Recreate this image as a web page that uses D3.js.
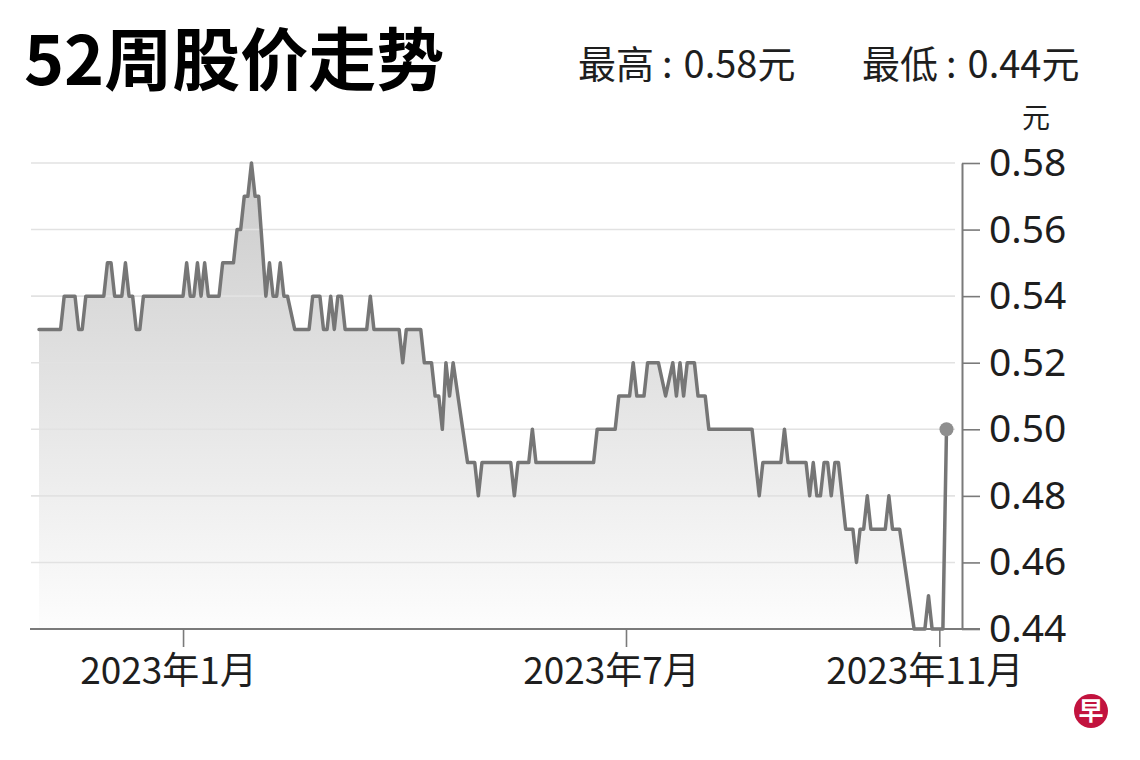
<!DOCTYPE html>
<html>
<head>
<meta charset="utf-8">
<script src="https://cdn.jsdelivr.net/npm/d3@7"></script>
<style>
  html, body { margin: 0; padding: 0; background: #ffffff; }
  svg { display: block; }
</style>
</head>
<body>
<svg id="chart" width="1140" height="760"></svg>
<script>
// ---------------- DATA ----------------
const titleText = "52周股价走势";
const statLabels = ["最高", "最低"];
const statValues = [0.58, 0.44];
const unitLabel = "元";

// trading-day index (0 = first day of the 52-week window) and closing price at each turning point
const dayIndex = [
  0, 6, 7, 10, 11, 12, 13, 18, 19, 20, 21, 23, 24, 25, 26, 27, 28, 29,
  40, 41, 42, 43, 44, 45, 46, 47, 50, 51, 54, 55, 56, 57, 58, 59, 60, 61,
  63, 64, 65, 66, 67, 68, 69, 71, 75, 76, 78, 79, 80, 81, 82, 83, 84, 85,
  91, 92, 93, 100, 101, 102, 106, 107, 109, 110, 111, 112, 113, 114, 115,
  119, 121, 122, 123, 131, 132, 133, 136, 137, 138, 154, 155, 160, 161, 164,
  165, 166, 168, 169, 172, 174, 176, 177, 178, 179, 180, 182, 183, 185, 186,
  198, 200, 201, 206, 207, 208, 213, 214, 215, 216, 217, 218, 219, 220, 221,
  222, 224, 226, 227, 228, 229, 230, 231, 235, 236, 237, 239, 243, 246, 247,
  248, 251, 252
];
const closePrice = [
  0.53, 0.53, 0.54, 0.54, 0.53, 0.53, 0.54, 0.54, 0.55, 0.55, 0.54, 0.54, 0.55, 0.54, 0.54, 0.53, 0.53, 0.54,
  0.54, 0.55, 0.54, 0.54, 0.55, 0.54, 0.55, 0.54, 0.54, 0.55, 0.55, 0.56, 0.56, 0.57, 0.57, 0.58, 0.57, 0.57,
  0.54, 0.55, 0.54, 0.54, 0.55, 0.54, 0.54, 0.53, 0.53, 0.54, 0.54, 0.53, 0.53, 0.54, 0.53, 0.54, 0.54, 0.53,
  0.53, 0.54, 0.53, 0.53, 0.52, 0.53, 0.53, 0.52, 0.52, 0.51, 0.51, 0.50, 0.52, 0.51, 0.52,
  0.49, 0.49, 0.48, 0.49, 0.49, 0.48, 0.49, 0.49, 0.50, 0.49, 0.49, 0.50, 0.50, 0.51, 0.51,
  0.52, 0.51, 0.51, 0.52, 0.52, 0.51, 0.52, 0.51, 0.52, 0.51, 0.52, 0.52, 0.51, 0.51, 0.50,
  0.50, 0.48, 0.49, 0.49, 0.50, 0.49, 0.49, 0.48, 0.49, 0.48, 0.48, 0.49, 0.49, 0.48, 0.49,
  0.49, 0.47, 0.47, 0.46, 0.47, 0.47, 0.48, 0.47, 0.47, 0.48, 0.47, 0.47, 0.44, 0.44, 0.45,
  0.44, 0.44, 0.50
];

const yTicks = [0.44, 0.46, 0.48, 0.50, 0.52, 0.54, 0.56, 0.58];
const xTickDays = [40, 163, 250];
const xTickLabels = ["2023年1月", "2023年7月", "2023年11月"];

// ---------------- LAYOUT ----------------
const svg = d3.select("#chart");
const plotLeft = 39, plotRight = 946.5, plotTop = 163, plotBottom = 629;
const gridLeft = 31, gridRight = 955, axisX = 962, baseRight = 980;
const cjk = "'Noto Sans CJK SC', 'Noto Sans', sans-serif";

const x = d3.scaleLinear().domain([d3.min(dayIndex), d3.max(dayIndex)]).range([plotLeft, plotRight]);
const y = d3.scaleLinear().domain([d3.min(yTicks), d3.max(yTicks)]).range([plotBottom, plotTop]);

const series = dayIndex.map((d, i) => ({ d, v: closePrice[i] }));

// gradient for area
const defs = svg.append("defs");
const grad = defs.append("linearGradient")
  .attr("id", "areaGrad")
  .attr("gradientUnits", "userSpaceOnUse")
  .attr("x1", 0).attr("x2", 0)
  .attr("y1", y(d3.max(yTicks))).attr("y2", y(d3.min(yTicks)));
grad.append("stop").attr("offset", "0%").attr("stop-color", "#cbcbcb");
grad.append("stop").attr("offset", "100%").attr("stop-color", "#fdfdfd");

// area
svg.append("path")
  .datum(series)
  .attr("fill", "url(#areaGrad)")
  .attr("d", d3.area().x(p => x(p.d)).y0(y(d3.min(yTicks))).y1(p => y(p.v)));

// gridlines
svg.append("g").selectAll("line")
  .data(yTicks.filter(t => t !== d3.min(yTicks)))
  .join("line")
  .attr("x1", gridLeft).attr("x2", gridRight)
  .attr("y1", d => y(d)).attr("y2", d => y(d))
  .attr("stroke", "#e2e2e2")
  .attr("stroke-width", 1.6);

// price line
svg.append("path")
  .datum(series)
  .attr("fill", "none")
  .attr("stroke", "#767676")
  .attr("stroke-width", 3.5)
  .attr("stroke-linejoin", "round")
  .attr("stroke-linecap", "round")
  .attr("d", d3.line().x(p => x(p.d)).y(p => y(p.v)));

// baseline
svg.append("line")
  .attr("x1", gridLeft - 1).attr("x2", baseRight)
  .attr("y1", y(d3.min(yTicks))).attr("y2", y(d3.min(yTicks)))
  .attr("stroke", "#7a7a7a").attr("stroke-width", 2);

// right axis
const yAxis = svg.append("g")
  .attr("transform", `translate(${axisX},0)`)
  .call(d3.axisRight(y).tickValues(yTicks).tickSize(18).tickSizeOuter(0).tickPadding(9)
        .tickFormat(d3.format(".2f")));
yAxis.select(".domain").attr("stroke", "#7a7a7a").attr("stroke-width", 2);
yAxis.selectAll(".tick line").attr("stroke", "#7a7a7a").attr("stroke-width", 1.6);
yAxis.selectAll(".tick text")
  .attr("fill", "#1e1e1e")
  .style("font-family", "'Noto Sans', 'Open Sans', sans-serif")
  .style("font-size", "39px");

// bottom axis (ticks + labels)
const xAxis = svg.append("g")
  .attr("transform", `translate(0,${plotBottom})`)
  .call(d3.axisBottom(x).tickValues(xTickDays).tickSize(18).tickSizeOuter(0)
        .tickFormat((d, i) => xTickLabels[i]));
xAxis.select(".domain").remove();
xAxis.selectAll(".tick text")
  .attr("fill", "#1e1e1e")
  .attr("y", 29)
  .attr("dx", -15)
  .style("font-family", cjk)
  .style("font-size", "37px");
xAxis.selectAll(".tick line").attr("stroke", "#7a7a7a").attr("stroke-width", 1.6);

// last point dot
const last = series[series.length - 1];
svg.append("circle")
  .attr("cx", x(last.d)).attr("cy", y(last.v)).attr("r", 7)
  .attr("fill", "#8e8e8e");

// title
svg.append("text")
  .attr("x", 24).attr("y", 85)
  .attr("fill", "#000")
  .style("font-family", cjk)
  .style("font-weight", 700)
  .style("font-size", "68px")
  .text(titleText);

// stats
const statX = [578, 862];
statLabels.forEach((lab, i) => {
  const t = svg.append("text")
    .attr("x", statX[i]).attr("y", 78)
    .attr("fill", "#1e1e1e")
    .style("font-family", cjk)
    .style("font-size", "38px");
  t.append("tspan").text(lab);
  t.append("tspan").attr("dx", 8).text(":");
  t.append("tspan").attr("dx", 11).text(statValues[i].toFixed(2) + "元");
});

// unit
svg.append("text")
  .attr("x", 1036).attr("y", 128)
  .attr("text-anchor", "middle")
  .attr("fill", "#1e1e1e")
  .style("font-family", cjk)
  .style("font-size", "28px")
  .text(unitLabel);

// logo
svg.append("circle").attr("cx", 1091).attr("cy", 711).attr("r", 17).attr("fill", "#c2133e");
svg.append("text")
  .attr("x", 1091).attr("y", 720)
  .attr("text-anchor", "middle")
  .attr("fill", "#ffffff")
  .style("font-family", cjk)
  .style("font-weight", 700)
  .style("font-size", "25px")
  .text("早");
</script>
</body>
</html>
